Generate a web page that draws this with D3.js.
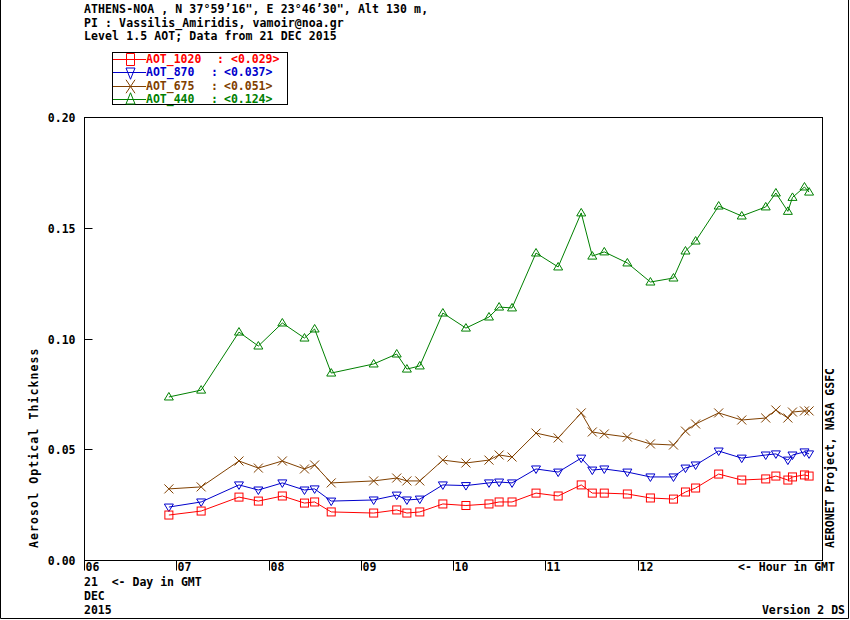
<!DOCTYPE html>
<html>
<head>
<meta charset="utf-8">
<script src="https://cdn.jsdelivr.net/npm/d3@7"></script>
<style>
body { margin: 0; background: #fff; }
svg text { font-family: "DejaVu Sans Mono", monospace; font-weight: bold; font-size: 11.5px; white-space: pre; }
</style>
</head>
<body>
<svg id="chart" width="850" height="620"></svg>
<script>
// hour of day (GMT) for each measurement
var hours = [6.92, 7.27, 7.68, 7.89, 8.15, 8.39, 8.50, 8.68, 9.14, 9.39, 9.50, 9.64,
	9.89, 10.14, 10.39, 10.50, 10.64, 10.90, 11.14, 11.39, 11.51, 11.64, 11.89, 12.14,
	12.39, 12.52, 12.63, 12.88, 13.13, 13.39, 13.50, 13.63, 13.68, 13.81, 13.86];

var aot1020 = [0.0203, 0.0221, 0.0284, 0.0266, 0.0289, 0.0257, 0.0262, 0.0217, 0.0212, 0.0226, 0.0212, 0.0217,
	0.0253, 0.0246, 0.0253, 0.0262, 0.0262, 0.0302, 0.0289, 0.0339, 0.0302, 0.0302, 0.0298, 0.0280,
	0.0275, 0.0307, 0.0325, 0.0388, 0.0361, 0.0366, 0.0379, 0.0361, 0.0375, 0.0384, 0.0379];
var aot870 = [0.0239, 0.0262, 0.0339, 0.0316, 0.0348, 0.0316, 0.0321, 0.0266, 0.0271, 0.0293, 0.0271, 0.0275,
	0.0339, 0.0336, 0.0348, 0.0352, 0.0348, 0.0411, 0.0397, 0.0460, 0.0406, 0.0411, 0.0397, 0.0375,
	0.0375, 0.0415, 0.0429, 0.0492, 0.0460, 0.0474, 0.0479, 0.0451, 0.0474, 0.0488, 0.0479];
var aot675 = [0.0321, 0.0330, 0.0447, 0.0415, 0.0447, 0.0411, 0.0429, 0.0348, 0.0357, 0.0370, 0.0357, 0.0357,
	0.0451, 0.0438, 0.0451, 0.0474, 0.0465, 0.0573, 0.0551, 0.0664, 0.0578, 0.0569, 0.0555, 0.0524,
	0.0519, 0.0582, 0.0614, 0.0664, 0.0632, 0.0641, 0.0677, 0.0641, 0.0668, 0.0673, 0.0673];
var aot440 = [0.0736, 0.0767, 0.1029, 0.0966, 0.1070, 0.1002, 0.1043, 0.0844, 0.0885, 0.0930, 0.0862, 0.0876,
	0.1115, 0.1047, 0.1097, 0.1142, 0.1138, 0.1386, 0.1323, 0.1567, 0.1372, 0.1391, 0.1341, 0.1255,
	0.1273, 0.1395, 0.1440, 0.1598, 0.1553, 0.1594, 0.1657, 0.1574, 0.1637, 0.1684, 0.1661];

var seriesNames = ["AOT_1020", "AOT_870", "AOT_675", "AOT_440"];
var seriesMeans = ["0.029", "0.037", "0.051", "0.124"];
var seriesColors = ["#ff0000", "#0000cc", "#804000", "#008000"];
var seriesShapes = ["square", "tridown", "cross", "triup"];

var hourTicks = [6, 7, 8, 9, 10, 11, 12];
var aotTicks = [0, 0.05, 0.10, 0.15, 0.20];

var headerLines = [
	"ATHENS-NOA , N 37\u00b059\u201916\", E 23\u00b046\u201930\", Alt 130 m,",
	"PI : Vassilis_Amiridis, vamoir@noa.gr",
	"Level 1.5 AOT; Data from 21 DEC 2015"
];

var svg = d3.select('#chart');
var plotLeft = 84, plotRight = 822, plotTop = 117, plotBottom = 560;

var x = d3.scaleLinear().domain([6, 14]).range([plotLeft, plotRight]);
var y = d3.scaleLinear().domain([0, 0.2]).range([plotBottom, plotTop]);

// outer border
svg.append('path')
	.attr('d', 'M0.5,0 V618.5 H848.5 V0')
	.attr('fill', 'none').attr('stroke', '#000');

// plot frame
svg.append('rect')
	.attr('x', plotLeft + 0.5).attr('y', plotTop + 0.5)
	.attr('width', plotRight - plotLeft).attr('height', plotBottom - plotTop)
	.attr('fill', 'none').attr('stroke', '#000');

// header
svg.selectAll('.hdr')
	.data(headerLines)
	.enter()
	.append('text')
	.attr('x', 84)
	.attr('y', function(d, i) { return 13 + i * 13.5 })
	.style('letter-spacing', '0.1px')
	.text(function(d) { return d });

// x axis ticks (pointing down, label right of tick)
var xg = svg.append('g').attr('transform', 'translate(0.5,' + (plotBottom + 0.5) + ')');
xg.selectAll('line')
	.data(hourTicks)
	.enter()
	.append('line')
	.attr('x1', function(d) { return Math.round(x(d)) })
	.attr('x2', function(d) { return Math.round(x(d)) })
	.attr('y1', 0).attr('y2', 10)
	.attr('stroke', '#000');
xg.selectAll('text')
	.data(hourTicks)
	.enter()
	.append('text')
	.attr('x', function(d) { return Math.round(x(d)) + 1 })
	.attr('y', 10)
	.text(function(d) { return d3.format('02d')(d) });

// y axis ticks (pointing inward)
var yg = svg.append('g').attr('transform', 'translate(' + (plotLeft + 0.5) + ',0.5)');
yg.selectAll('line')
	.data(aotTicks)
	.enter()
	.append('line')
	.attr('x1', 0).attr('x2', 8)
	.attr('y1', function(d) { return Math.round(y(d)) })
	.attr('y2', function(d) { return Math.round(y(d)) })
	.attr('stroke', '#000');
yg.selectAll('text')
	.data(aotTicks)
	.enter()
	.append('text')
	.attr('x', -9)
	.attr('y', function(d) { return Math.round(y(d)) + 4 })
	.attr('text-anchor', 'end')
	.text(function(d) { return d3.format('.2f')(d) });

// axis titles and notes
svg.append('text')
	.attr('transform', 'translate(38,548) rotate(-90)')
	.style('letter-spacing', '1.1px')
	.text('Aerosol Optical Thickness');
svg.append('text')
	.attr('transform', 'translate(834,548) rotate(-90)')
	.text('AERONET Project, NASA GSFC');
svg.append('text').attr('x', 84).attr('y', 586).text('21  <- Day in GMT');
svg.append('text').attr('x', 84).attr('y', 600).text('DEC');
svg.append('text').attr('x', 84).attr('y', 614).text('2015');
svg.append('text').attr('x', 738).attr('y', 571).text('<- Hour in GMT');
svg.append('text').attr('x', 845).attr('y', 614).attr('text-anchor', 'end').text('Version 2 DS');

function marker(g, shape, color) {
	if (shape == 'square') {
		g.append('rect').attr('x', -4).attr('y', -4).attr('width', 8).attr('height', 8)
			.attr('fill', 'none').attr('stroke', color);
	} else if (shape == 'triup') {
		g.append('path').attr('d', 'M0,-4.5 L4.5,3 L-4.5,3 Z')
			.attr('fill', 'none').attr('stroke', color);
	} else if (shape == 'tridown') {
		g.append('path').attr('d', 'M0,4.5 L4.5,-3 L-4.5,-3 Z')
			.attr('fill', 'none').attr('stroke', color);
	} else {
		g.append('path').attr('d', 'M-4.5,-4.5 L4.5,4.5 M-4.5,4.5 L4.5,-4.5')
			.attr('fill', 'none').attr('stroke', color);
	}
}

var allSeries = [aot1020, aot870, aot675, aot440];
var line = d3.line()
	.x(function(d, i) { return x(hours[i]) })
	.y(function(d) { return y(d) });

// draw from 440 down so 1020 sits on top
for (var s = allSeries.length - 1; s >= 0; s--) {
	svg.append('path')
		.datum(allSeries[s])
		.attr('d', line)
		.attr('fill', 'none')
		.attr('stroke', seriesColors[s])
		.attr('stroke-width', 1);
	svg.selectAll('.pt' + s)
		.data(allSeries[s])
		.enter()
		.append('g')
		.attr('class', 'pt' + s)
		.attr('transform', function(d, i) { return 'translate(' + x(hours[i]) + ',' + y(d) + ')' })
		.each(function() { marker(d3.select(this), seriesShapes[s], seriesColors[s]) });
}

// legend (markers stretched tall like the original plot symbols)
var lg = svg.append('g');
lg.append('rect')
	.attr('x', 112.5).attr('y', 52.5).attr('width', 175).attr('height', 52)
	.attr('fill', '#fff').attr('stroke', '#000');
var colonX = [217, 211, 211, 211];
var valueX = [231, 224, 224, 224];
seriesNames.forEach(function(name, i) {
	var cy = 59 + i * 13.3;
	var row = lg.append('g');
	row.append('line')
		.attr('x1', 113).attr('x2', 146)
		.attr('y1', Math.round(cy) + 0.5).attr('y2', Math.round(cy) + 0.5)
		.attr('stroke', seriesColors[i]);
	var m = row.append('g').attr('transform', 'translate(130.5,' + (Math.round(cy) + 0.5) + ') scale(1,1.5)');
	marker(m, seriesShapes[i], seriesColors[i]);
	m.selectAll('*').attr('vector-effect', 'non-scaling-stroke');
	var t = row.append('text').attr('y', cy + 4).attr('fill', seriesColors[i]);
	t.append('tspan').attr('x', 146).text(name);
	t.append('tspan').attr('x', colonX[i]).text(':');
	t.append('tspan').attr('x', valueX[i]).text('<' + seriesMeans[i] + '>');
});
</script>
</body>
</html>
